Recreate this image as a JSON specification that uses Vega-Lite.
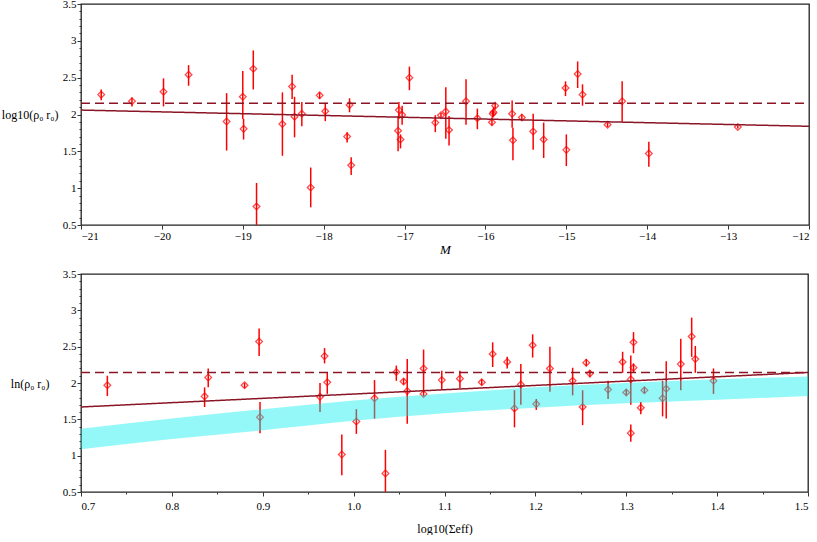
{
  "$schema": "https://vega.github.io/schema/vega-lite/v6.json",
  "padding": {"left": 0, "top": -3, "right": 0, "bottom": 0},
  "spacing": 10,
  "config": {
    "view": {"stroke": "#222", "strokeWidth": 1.3},
    "axis": {
      "domain": false, "grid": false,
      "labelFont": "Liberation Serif", "labelFontSize": 11, "labelColor": "black",
      "tickColor": "#333", "labelPadding": 1,
      "titleFont": "Liberation Serif", "titleFontWeight": "normal", "titleFontSize": 12, "titleColor": "black"
    }
  },
  "datasets": {
    "top": [
      {"x": -20.75, "y": 2.27, "lo": 2.195, "hi": 2.34},
      {"x": -20.37, "y": 2.18, "lo": 2.11, "hi": 2.23},
      {"x": -19.98, "y": 2.31, "lo": 2.11, "hi": 2.49},
      {"x": -19.67, "y": 2.54, "lo": 2.39, "hi": 2.67},
      {"x": -19.2, "y": 1.905, "lo": 1.51, "hi": 2.29},
      {"x": -19.0, "y": 2.24, "lo": 1.94, "hi": 2.59},
      {"x": -18.99, "y": 1.805, "lo": 1.66, "hi": 1.94},
      {"x": -18.87, "y": 2.62, "lo": 2.34, "hi": 2.87},
      {"x": -18.83, "y": 0.75, "lo": 0.45, "hi": 1.07},
      {"x": -18.51, "y": 1.87, "lo": 1.44, "hi": 2.3},
      {"x": -18.39, "y": 2.38, "lo": 2.21, "hi": 2.54},
      {"x": -18.36, "y": 1.97, "lo": 1.69, "hi": 2.24},
      {"x": -18.27, "y": 2.01, "lo": 1.84, "hi": 2.17},
      {"x": -18.16, "y": 1.01, "lo": 0.74, "hi": 1.28},
      {"x": -18.05, "y": 2.26, "lo": 2.21, "hi": 2.3},
      {"x": -17.98, "y": 2.045, "lo": 1.91, "hi": 2.16},
      {"x": -17.71, "y": 1.7, "lo": 1.62, "hi": 1.76},
      {"x": -17.68, "y": 2.13, "lo": 2.03, "hi": 2.22},
      {"x": -17.66, "y": 1.31, "lo": 1.18, "hi": 1.42},
      {"x": -17.08, "y": 1.78, "lo": 1.5, "hi": 1.98},
      {"x": -17.07, "y": 2.06, "lo": 1.94, "hi": 2.17},
      {"x": -17.05, "y": 1.66, "lo": 1.54, "hi": 1.73},
      {"x": -17.03, "y": 1.995, "lo": 1.86, "hi": 2.12},
      {"x": -16.94, "y": 2.5, "lo": 2.33, "hi": 2.65},
      {"x": -16.62, "y": 1.89, "lo": 1.76, "hi": 1.99},
      {"x": -16.55, "y": 1.99, "lo": 1.96, "hi": 2.02},
      {"x": -16.49, "y": 2.04, "lo": 1.67, "hi": 2.37},
      {"x": -16.45, "y": 1.79, "lo": 1.58, "hi": 1.98},
      {"x": -16.24, "y": 2.18, "lo": 1.86, "hi": 2.48},
      {"x": -16.1, "y": 1.95, "lo": 1.8, "hi": 2.08},
      {"x": -15.92, "y": 1.895, "lo": 1.85, "hi": 1.96},
      {"x": -15.91, "y": 2.01, "lo": 1.96, "hi": 2.06},
      {"x": -15.9, "y": 2.03, "lo": 1.98, "hi": 2.1},
      {"x": -15.88, "y": 2.12, "lo": 2.07, "hi": 2.16},
      {"x": -15.67, "y": 2.01, "lo": 1.82, "hi": 2.19},
      {"x": -15.66, "y": 1.65, "lo": 1.38, "hi": 1.82},
      {"x": -15.55, "y": 1.96, "lo": 1.92, "hi": 2.0},
      {"x": -15.41, "y": 1.77, "lo": 1.52, "hi": 2.01},
      {"x": -15.28, "y": 1.66, "lo": 1.41, "hi": 1.89},
      {"x": -15.01, "y": 2.36, "lo": 2.25, "hi": 2.45},
      {"x": -15.0, "y": 1.52, "lo": 1.3, "hi": 1.73},
      {"x": -14.86, "y": 2.55, "lo": 2.36, "hi": 2.72},
      {"x": -14.8, "y": 2.27, "lo": 2.12, "hi": 2.41},
      {"x": -14.49, "y": 1.86, "lo": 1.83, "hi": 1.89},
      {"x": -14.31, "y": 2.18, "lo": 1.9, "hi": 2.45},
      {"x": -13.98, "y": 1.47, "lo": 1.29, "hi": 1.63},
      {"x": -12.88, "y": 1.83, "lo": 1.81, "hi": 1.85}
    ],
    "topLines": [
      {"x": -21, "y": 2.06, "k": "fit"},
      {"x": -12, "y": 1.84, "k": "fit"},
      {"x": -21, "y": 2.153, "k": "mean"},
      {"x": -12, "y": 2.153, "k": "mean"}
    ],
    "bottom": [
      {"x": 0.729, "y": 1.97, "lo": 1.82, "hi": 2.1},
      {"x": 0.836, "y": 1.816, "lo": 1.67, "hi": 1.94},
      {"x": 0.84, "y": 2.077, "lo": 1.94, "hi": 2.2},
      {"x": 0.88, "y": 1.97, "lo": 1.93, "hi": 2.0},
      {"x": 0.896, "y": 2.57, "lo": 2.37, "hi": 2.75},
      {"x": 0.897, "y": 1.53, "lo": 1.31, "hi": 1.74},
      {"x": 0.963, "y": 1.81, "lo": 1.6, "hi": 2.0},
      {"x": 0.968, "y": 2.37, "lo": 2.27, "hi": 2.48},
      {"x": 0.971, "y": 2.01, "lo": 1.85, "hi": 2.14},
      {"x": 0.987, "y": 1.016, "lo": 0.73, "hi": 1.29},
      {"x": 1.003, "y": 1.47, "lo": 1.3, "hi": 1.64},
      {"x": 1.023, "y": 1.79, "lo": 1.51, "hi": 2.04},
      {"x": 1.035, "y": 0.756, "lo": 0.45, "hi": 1.08},
      {"x": 1.047, "y": 2.15, "lo": 2.03, "hi": 2.24},
      {"x": 1.055, "y": 2.02, "lo": 1.98, "hi": 2.06},
      {"x": 1.059, "y": 1.89, "lo": 1.44, "hi": 2.33},
      {"x": 1.077, "y": 2.2, "lo": 1.87, "hi": 2.46},
      {"x": 1.077, "y": 1.85, "lo": 1.82, "hi": 1.88},
      {"x": 1.097, "y": 2.04, "lo": 1.91, "hi": 2.17},
      {"x": 1.117, "y": 2.06, "lo": 1.93, "hi": 2.17},
      {"x": 1.141, "y": 2.01, "lo": 1.97, "hi": 2.05},
      {"x": 1.153, "y": 2.4, "lo": 2.22, "hi": 2.56},
      {"x": 1.169, "y": 2.29, "lo": 2.2, "hi": 2.36},
      {"x": 1.177, "y": 1.65, "lo": 1.39, "hi": 1.9},
      {"x": 1.184, "y": 1.98, "lo": 1.7, "hi": 2.26},
      {"x": 1.197, "y": 2.52, "lo": 2.35, "hi": 2.67},
      {"x": 1.201, "y": 1.71, "lo": 1.63, "hi": 1.78},
      {"x": 1.216, "y": 2.2, "lo": 1.88, "hi": 2.5},
      {"x": 1.241, "y": 2.03, "lo": 1.83, "hi": 2.21},
      {"x": 1.252, "y": 1.67, "lo": 1.42, "hi": 1.9},
      {"x": 1.256, "y": 2.28, "lo": 2.23, "hi": 2.33},
      {"x": 1.26, "y": 2.13, "lo": 2.08, "hi": 2.18},
      {"x": 1.28, "y": 1.91, "lo": 1.78, "hi": 2.03},
      {"x": 1.296, "y": 2.29, "lo": 2.14, "hi": 2.43},
      {"x": 1.3, "y": 1.87, "lo": 1.83, "hi": 1.91},
      {"x": 1.305, "y": 2.05, "lo": 1.7, "hi": 2.38},
      {"x": 1.305, "y": 1.31, "lo": 1.19, "hi": 1.43},
      {"x": 1.308, "y": 2.21, "lo": 2.15, "hi": 2.27},
      {"x": 1.308, "y": 2.56, "lo": 2.41, "hi": 2.7},
      {"x": 1.316, "y": 1.66, "lo": 1.57, "hi": 1.74},
      {"x": 1.32, "y": 1.9, "lo": 1.86, "hi": 1.94},
      {"x": 1.34, "y": 1.79, "lo": 1.54, "hi": 2.03},
      {"x": 1.344, "y": 1.92, "lo": 1.51, "hi": 2.3},
      {"x": 1.36, "y": 2.26, "lo": 1.9, "hi": 2.61},
      {"x": 1.372, "y": 2.64, "lo": 2.36, "hi": 2.9},
      {"x": 1.376, "y": 2.33, "lo": 2.14, "hi": 2.51},
      {"x": 1.396, "y": 2.03, "lo": 1.85, "hi": 2.2}
    ],
    "bottomLines": [
      {"x": 0.7, "y": 1.67, "k": "fit"},
      {"x": 1.5, "y": 2.145, "k": "fit"},
      {"x": 0.7, "y": 2.145, "k": "mean"},
      {"x": 1.5, "y": 2.145, "k": "mean"}
    ],
    "band": [
      {"x": 0.7, "lo": 1.09, "hi": 1.37},
      {"x": 0.8, "lo": 1.23, "hi": 1.51},
      {"x": 0.9, "lo": 1.35, "hi": 1.64},
      {"x": 1.0, "lo": 1.48, "hi": 1.76},
      {"x": 1.1, "lo": 1.585, "hi": 1.855},
      {"x": 1.2, "lo": 1.66, "hi": 1.94},
      {"x": 1.3, "lo": 1.72, "hi": 2.0},
      {"x": 1.4, "lo": 1.77, "hi": 2.05},
      {"x": 1.5, "lo": 1.82, "hi": 2.09}
    ]
  },
  "vconcat": [
    {
      "width": 728,
      "height": 221,
      "encoding": {
        "x": {
          "field": "x", "type": "quantitative", "title": "M",
          "scale": {"domain": [-21, -12], "nice": false, "zero": false},
          "axis": {
            "values": [-21, -20.5, -20, -19.5, -19, -18.5, -18, -17.5, -17, -16.5, -16, -15.5, -15, -14.5, -14, -13.5, -13, -12.5, -12],
            "format": "d",
            "labelExpr": "datum.value % 1 === 0 ? datum.label : ''",
            "tickSize": {"condition": {"test": "datum.value % 1 === 0", "value": 4}, "value": 2},
            "titleFontStyle": "italic", "titleFontSize": 13, "titlePadding": 2
          }
        },
        "y": {
          "field": "y", "type": "quantitative", "title": "log10(ρ₀ r₀)",
          "scale": {"domain": [0.5, 3.5], "nice": false, "zero": false},
          "axis": {
            "values": [0.5, 0.6, 0.7, 0.8, 0.9, 1, 1.1, 1.2, 1.3, 1.4, 1.5, 1.6, 1.7, 1.8, 1.9, 2, 2.1, 2.2, 2.3, 2.4, 2.5, 2.6, 2.7, 2.8, 2.9, 3, 3.1, 3.2, 3.3, 3.4, 3.5],
            "format": "~g",
            "labelExpr": "abs(datum.value * 2 - round(datum.value * 2)) < 0.000001 ? datum.label : ''",
            "tickSize": {"condition": {"test": "abs(datum.value * 2 - round(datum.value * 2)) < 0.000001", "value": 4}, "value": 2},
            "titleAngle": 0, "titleAlign": "right", "titleBaseline": "middle", "titleX": -23, "titleY": 110
          }
        }
      },
      "layer": [
        {
          "data": {"name": "top"},
          "mark": {"type": "rule", "color": "#ff0000", "strokeWidth": 1.5, "clip": true},
          "encoding": {"y": {"field": "lo", "type": "quantitative"}, "y2": {"field": "hi"}}
        },
        {
          "data": {"name": "top"},
          "mark": {"type": "point", "shape": "diamond", "filled": false, "stroke": "#ff0000", "strokeWidth": 1.3, "size": 45, "clip": true}
        },
        {
          "data": {"name": "topLines"},
          "mark": {"type": "line", "color": "#8b1525", "strokeWidth": 1.5},
          "encoding": {
            "detail": {"field": "k"},
            "strokeDash": {"field": "k", "type": "nominal", "scale": {"domain": ["fit", "mean"], "range": [[1, 0], [9, 5]]}, "legend": null}
          }
        }
      ]
    },
    {
      "width": 727,
      "height": 218,
      "encoding": {
        "x": {
          "field": "x", "type": "quantitative", "title": "log10(Σeff)",
          "scale": {"domain": [0.7, 1.5], "nice": false, "zero": false},
          "axis": {
            "values": [0.7, 0.75, 0.8, 0.85, 0.9, 0.95, 1, 1.05, 1.1, 1.15, 1.2, 1.25, 1.3, 1.35, 1.4, 1.45, 1.5],
            "format": ".1f",
            "labelExpr": "abs(datum.value * 10 - round(datum.value * 10)) < 0.000001 ? datum.label : ''",
            "tickSize": {"condition": {"test": "abs(datum.value * 10 - round(datum.value * 10)) < 0.000001", "value": 4}, "value": 2},
            "labelPadding": 4,
            "titlePadding": 12
          }
        },
        "y": {
          "field": "y", "type": "quantitative", "title": "ln(ρ₀ r₀)",
          "scale": {"domain": [0.5, 3.5], "nice": false, "zero": false},
          "axis": {
            "values": [0.5, 0.6, 0.7, 0.8, 0.9, 1, 1.1, 1.2, 1.3, 1.4, 1.5, 1.6, 1.7, 1.8, 1.9, 2, 2.1, 2.2, 2.3, 2.4, 2.5, 2.6, 2.7, 2.8, 2.9, 3, 3.1, 3.2, 3.3, 3.4, 3.5],
            "format": "~g",
            "labelExpr": "abs(datum.value * 2 - round(datum.value * 2)) < 0.000001 ? datum.label : ''",
            "tickSize": {"condition": {"test": "abs(datum.value * 2 - round(datum.value * 2)) < 0.000001", "value": 4}, "value": 2},
            "titleAngle": 0, "titleAlign": "right", "titleBaseline": "middle", "titleX": -32, "titleY": 109
          }
        }
      },
      "layer": [
        {
          "data": {"name": "bottom"},
          "mark": {"type": "rule", "color": "#ff0000", "strokeWidth": 1.5, "clip": true},
          "encoding": {"y": {"field": "lo", "type": "quantitative"}, "y2": {"field": "hi"}}
        },
        {
          "data": {"name": "bottom"},
          "mark": {"type": "point", "shape": "diamond", "filled": false, "stroke": "#ff0000", "strokeWidth": 1.3, "size": 45, "clip": true}
        },
        {
          "data": {"name": "band"},
          "mark": {"type": "area", "color": "#00eeee", "opacity": 0.42, "interpolate": "monotone"},
          "encoding": {"y": {"field": "lo", "type": "quantitative"}, "y2": {"field": "hi"}}
        },
        {
          "data": {"name": "bottomLines"},
          "mark": {"type": "line", "color": "#8b1525", "strokeWidth": 1.5},
          "encoding": {
            "detail": {"field": "k"},
            "strokeDash": {"field": "k", "type": "nominal", "scale": {"domain": ["fit", "mean"], "range": [[1, 0], [9, 5]]}, "legend": null}
          }
        }
      ]
    }
  ]
}
